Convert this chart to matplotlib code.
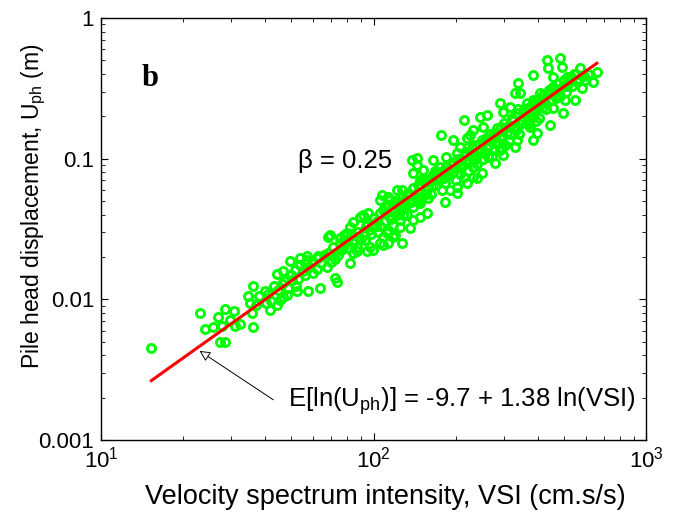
import matplotlib
matplotlib.use('Agg')
import matplotlib.pyplot as plt
import numpy as np

# ---- data (VSI in cm.s/s, U_ph in m) ----
vsi = [15.3, 23.1, 24.0, 25.8, 26.9, 28.5, 30.8, 27.7, 29.7, 32.4, 31.0, 27.3, 28.6, 36.2,
       34.5, 36.0, 35.2, 35.7, 37.0, 41.1, 41.7, 40.3, 44.1, 45.4, 44.8, 46.7, 44.1, 46.7,
       48.7, 51.5, 52.3, 50.1, 53.7, 56.8, 57.7, 63.6, 62.7, 69.2, 73.2, 71.2, 75.4, 82.0,
       84.3, 86.8, 82.0, 84.3, 91.7, 94.4, 93.0, 97.1, 105.6, 107, 110, 115, 113, 108.6,
       121.7, 120,
       49.4, 53.7, 56.0, 59.3, 67.3, 72.2, 68.2, 79.8, 89.2, 95.7, 86.8, 94.4, 99.8, 105.6,
       108.6, 113, 125, 134, 129, 140, 148, 113, 118, 125, 118, 127, 136, 140, 138, 140,
       144, 152, 157, 146, 154, 159, 148, 157,
       56.8, 62.7, 75.4, 79.8, 77.5, 84.3, 98.5, 113, 108.6, 118, 127.5, 105.6, 112, 125,
       144, 148, 165.5, 175, 185, 165.5, 172.6, 182.5, 191, 202, 214, 220, 232, 250, 232,
       177.5, 196, 208, 214, 202, 220, 232, 223, 246, 253, 260, 264, 280, 291, 276, 291,
       299, 317, 326, 340, 345, 365, 386, 375, 336, 397, 386, 386, 432, 483, 438, 490,
       456, 511, 573, 659, 641, 581, 549, 497, 444, 456, 408,
       226, 260, 239, 202, 182.5, 127.5, 148, 598, 331, 386, 419, 504, 331, 299,
       40, 43, 47, 50, 53, 55, 58,
       62, 66, 72, 76, 78, 85, 88, 92, 96, 100, 102, 104, 110, 114, 118, 122, 126, 130,
       133, 137, 142, 146, 150, 154, 158, 162, 166, 170, 175, 178, 183, 187, 192, 196,
       200, 205, 210, 215, 218, 222, 228, 232, 236, 240, 245, 250, 255, 262, 268, 272,
       278, 285, 290, 295, 302, 308, 315, 322, 328, 335, 342, 350, 358, 365, 372, 380,
       390, 398, 405, 412, 420, 430, 440, 448, 455, 465, 475, 485, 495, 510, 520, 535,
       545, 560, 590,
       38, 42, 46, 48, 52, 56, 60, 64, 68, 70, 74, 80, 83, 90, 94, 98, 103, 106, 112, 116,
       120, 124, 128, 132, 135, 140, 144, 149, 152, 156, 160, 164, 168, 172, 176, 181,
       185, 190, 195, 199, 204, 208, 212, 217, 225, 230, 234, 238, 243, 248, 252, 258,
       265, 270, 276, 282, 288, 293, 298, 305, 312, 318, 325, 332, 338, 345, 355, 362,
       370, 378, 385, 394, 402, 410, 425, 436, 452, 468, 480, 500, 515, 530, 555, 570,
       610]
uph = [0.0045, 0.0080, 0.0062, 0.0064, 0.0075, 0.0085, 0.0082, 0.0065, 0.0071, 0.0067,
       0.0065, 0.0050, 0.0050, 0.0064, 0.0106, 0.0125, 0.0094, 0.0080, 0.0091, 0.0110,
       0.0084, 0.0094, 0.0091, 0.0099, 0.0116, 0.0104, 0.0152, 0.0158, 0.0120, 0.0162,
       0.0114, 0.0137, 0.0176, 0.0191, 0.0114, 0.0120, 0.0196, 0.0287, 0.0133, 0.0237,
       0.0250, 0.0181, 0.0213, 0.0237, 0.0328, 0.0357, 0.0398, 0.0348, 0.0264, 0.0237,
       0.0509, 0.0553, 0.0456, 0.0509, 0.0250, 0.0244, 0.060, 0.0287,
       0.0186, 0.0196, 0.0181, 0.0186, 0.0171, 0.0141, 0.0279, 0.0264, 0.0387, 0.0409,
       0.0219, 0.0219, 0.0225, 0.025, 0.0279, 0.0469, 0.0495, 0.0568, 0.0444, 0.0456,
       0.0387, 0.0311, 0.0338, 0.0367, 0.0279, 0.025, 0.032, 0.0367, 0.098, 0.0787,
       0.090, 0.0831, 0.0706, 0.065, 0.060, 0.0523, 0.0482, 0.0409,
       0.0202, 0.0202, 0.0271, 0.0294, 0.0237, 0.025, 0.0338, 0.0537, 0.0432, 0.0444,
       0.0537, 0.0409, 0.0294, 0.0328, 0.1007, 0.0706, 0.0706, 0.0877, 0.1034, 0.098,
       0.0809, 0.0669, 0.060, 0.0633, 0.0745, 0.0669, 0.0745, 0.0787, 0.0877,
       0.147, 0.136, 0.121, 0.188, 0.109, 0.140, 0.160, 0.121, 0.198, 0.169, 0.136,
       0.1034, 0.0928, 0.115, 0.1515, 0.247, 0.216, 0.234, 0.188, 0.343, 0.292, 0.247,
       0.198, 0.169, 0.136, 0.1515, 0.136, 0.393, 0.503, 0.517, 0.439, 0.450, 0.382,
       0.382, 0.439, 0.415, 0.352, 0.317, 0.261, 0.210, 0.173, 0.325, 0.292,
       0.147, 0.2045, 0.0726, 0.0568, 0.0495, 0.060, 0.0537, 0.362, 0.292, 0.261, 0.234,
       0.261, 0.121, 0.106,
       0.0115, 0.0125, 0.0135, 0.0150, 0.0140, 0.0160, 0.0170,
       0.0165, 0.0205, 0.0195, 0.0225, 0.0285, 0.0265, 0.0300, 0.0285, 0.0310, 0.0380,
       0.0330, 0.0300, 0.0360, 0.0390, 0.0420, 0.0400, 0.0460, 0.0520, 0.0400, 0.0490,
       0.0530, 0.0580, 0.0500, 0.0690, 0.0620, 0.0560, 0.0760, 0.0650, 0.0720, 0.0600,
       0.0820, 0.0760, 0.0900, 0.0800, 0.0700, 0.0950, 0.0860, 0.1050, 0.0980, 0.0820,
       0.1100, 0.1000, 0.1250, 0.0920, 0.1150, 0.1350, 0.1100, 0.1200, 0.1500, 0.1050,
       0.1300, 0.1650, 0.1400, 0.1200, 0.1800, 0.1550, 0.1350, 0.1950, 0.1700, 0.2100,
       0.1500, 0.1850, 0.2250, 0.2000, 0.1750, 0.2350, 0.2150, 0.2650, 0.1950, 0.2500,
       0.2850, 0.2250, 0.3100, 0.2600, 0.2300, 0.3000, 0.3400, 0.2800, 0.3300, 0.3000,
       0.3600, 0.3300, 0.4000, 0.3500, 0.3900,
       0.0105, 0.0098, 0.0128, 0.0108, 0.0125, 0.0148, 0.0155, 0.0180, 0.0215, 0.0185,
       0.0205, 0.0230, 0.0290, 0.0270, 0.0330, 0.0290, 0.0360, 0.0330, 0.0420, 0.0370,
       0.0500, 0.0430, 0.0400, 0.0470, 0.0540, 0.0620, 0.0500, 0.0650, 0.0720, 0.0560,
       0.0700, 0.0640, 0.0820, 0.0700, 0.0800, 0.0730, 0.0880, 0.0820, 0.0950, 0.0860,
       0.1000, 0.0780, 0.0920, 0.1120, 0.0950, 0.1200, 0.1080, 0.0990, 0.1280, 0.1180,
       0.1000, 0.1400, 0.1250, 0.1380, 0.1160, 0.1500, 0.1300, 0.1680, 0.1450, 0.1250,
       0.1700, 0.1500, 0.1850, 0.1600, 0.2250, 0.1750, 0.2100, 0.1800, 0.2300, 0.2050,
       0.2500, 0.1850, 0.2300, 0.2700, 0.2500, 0.2900, 0.3200, 0.2700, 0.3100, 0.3600,
       0.3300, 0.3800, 0.4000, 0.3700, 0.4000]

fit_intercept = -9.7
fit_slope = 1.38
fit_vsi_range = [15.3, 660]

x_ticks = [10, 100, 1000]
y_ticks = [0.001, 0.01, 0.1, 1]
y_tick_labels = ['0.001', '0.01', '0.1', '1']

plt.rcParams['font.family'] = ['Liberation Sans', 'DejaVu Sans']
plt.rcParams['mathtext.fontset'] = 'custom'
plt.rcParams['mathtext.rm'] = 'Liberation Sans'

fig = plt.figure(figsize=(6.79, 5.18), dpi=100)
ax = fig.add_axes([101 / 679, 1 - 440 / 518, 545 / 679, 422 / 518])
ax.set_xscale('log')
ax.set_yscale('log')

ax.plot(vsi, uph, linestyle='none', marker='o', mfc='none', mec=(0, 1, 0),
        ms=5.8, mew=2.1, zorder=2)

xf = np.geomspace(fit_vsi_range[0], fit_vsi_range[1], 60)
ax.plot(xf, np.exp(fit_intercept + fit_slope * np.log(xf)), color=(1, 0, 0), lw=2.2, zorder=3)

ax.set_xlim(10, 1000)
ax.set_ylim(0.001, 1)
ax.set_xticks(x_ticks)
ax.set_yticks(y_ticks)
ax.set_yticklabels(y_tick_labels)

for s in ax.spines.values():
    s.set_linewidth(1.0)
ax.tick_params(which='both', direction='in', top=True, right=True, labelsize=16,
               colors='black')
ax.tick_params(which='major', length=5, width=0.8, pad=5)
ax.tick_params(which='minor', length=3, width=0.6)

ax.set_xlabel('Velocity spectrum intensity, VSI (cm.s/s)', fontsize=19.5)
ax.xaxis.set_label_coords(0.521, -0.105)
ax.set_ylabel(r'Pile head displacement, U$_{\mathregular{ph}}$ (m)', fontsize=16.5)
ax.yaxis.set_label_coords(-0.097, 0.555)

ax.text(0.09, 0.839, 'b', transform=ax.transAxes, family='Liberation Serif',
        fontweight='bold', fontsize=22, ha='center', va='baseline')
ax.text(52.9, 0.0855, 'β = 0.25', fontsize=18.5, ha='left', va='baseline')
ax.text(48.5, 0.00173, r'E[ln(U$_{\mathregular{ph}}$)] = -9.7 + 1.38 ln(VSI)',
        fontsize=18.5, ha='left', va='baseline')
ax.annotate('', xy=(23.0, 0.0043), xytext=(42.9, 0.00193),
            arrowprops=dict(arrowstyle='-|>', color='black', fc='white', lw=0.7,
                            mutation_scale=16, shrinkA=0, shrinkB=0))

fig.savefig('out.png', dpi=100)
